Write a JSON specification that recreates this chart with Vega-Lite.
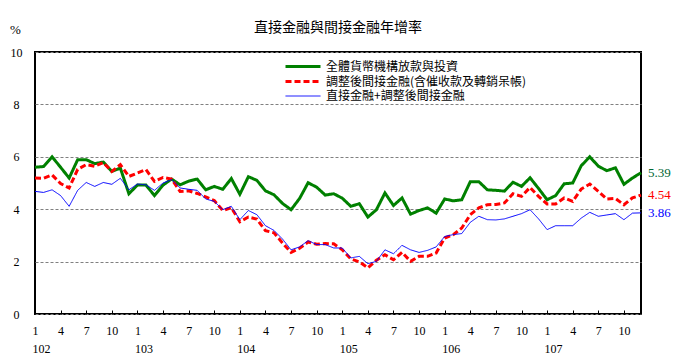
{
  "$schema": "https://vega.github.io/schema/vega-lite/v6.json",
  "width": 606,
  "height": 262,
  "autosize": "none",
  "padding": {"left": 35, "top": 52, "right": 39, "bottom": 49},
  "background": "white",
  "title": {"text": "直接金融與間接金融年增率", "font": "Noto Sans CJK TC", "fontSize": 14, "fontWeight": "normal", "frame": "group", "anchor": "middle", "offset": -12, "color": "black"},
  "config": {"view": {"stroke": "black", "strokeWidth": 2}},
  "data": {"values": [
    {"t":0,"g":5.60,"r":5.19,"b":4.68},{"t":1,"g":5.63,"r":5.18,"b":4.64},{"t":2,"g":6.00,"r":5.31,"b":4.74},{"t":3,"g":5.60,"r":4.98,"b":4.52},{"t":4,"g":5.19,"r":4.81,"b":4.11},{"t":5,"g":5.89,"r":5.52,"b":4.72},{"t":6,"g":5.89,"r":5.70,"b":5.02},{"t":7,"g":5.74,"r":5.64,"b":4.87},{"t":8,"g":5.80,"r":5.78,"b":5.02},{"t":9,"g":5.44,"r":5.44,"b":4.95},{"t":10,"g":5.57,"r":5.70,"b":5.18},{"t":11,"g":4.59,"r":5.25,"b":4.74},
    {"t":12,"g":4.92,"r":5.38,"b":4.96},{"t":13,"g":4.92,"r":5.51,"b":4.93},{"t":14,"g":4.52,"r":5.06,"b":4.72},{"t":15,"g":4.92,"r":5.21,"b":5.00},{"t":16,"g":5.15,"r":5.15,"b":5.13},{"t":17,"g":4.93,"r":4.68,"b":4.81},{"t":18,"g":5.07,"r":4.70,"b":4.76},{"t":19,"g":5.15,"r":4.60,"b":4.72},{"t":20,"g":4.74,"r":4.47,"b":4.39},{"t":21,"g":4.87,"r":4.33,"b":4.30},{"t":22,"g":4.76,"r":3.95,"b":3.98},{"t":23,"g":5.17,"r":4.06,"b":4.11},
    {"t":24,"g":4.57,"r":3.52,"b":3.60},{"t":25,"g":5.24,"r":3.70,"b":3.95},{"t":26,"g":5.10,"r":3.62,"b":3.79},{"t":27,"g":4.70,"r":3.18,"b":3.37},{"t":28,"g":4.55,"r":3.10,"b":3.19},{"t":29,"g":4.22,"r":2.71,"b":2.86},{"t":30,"g":3.98,"r":2.35,"b":2.45},{"t":31,"g":4.41,"r":2.51,"b":2.56},{"t":32,"g":5.01,"r":2.75,"b":2.80},{"t":33,"g":4.84,"r":2.66,"b":2.65},{"t":34,"g":4.54,"r":2.69,"b":2.65},{"t":35,"g":4.59,"r":2.68,"b":2.52},
    {"t":36,"g":4.42,"r":2.45,"b":2.52},{"t":37,"g":4.11,"r":2.10,"b":2.14},{"t":38,"g":4.21,"r":1.99,"b":2.20},{"t":39,"g":3.70,"r":1.76,"b":1.92},{"t":40,"g":3.98,"r":2.05,"b":2.01},{"t":41,"g":4.62,"r":2.26,"b":2.45},{"t":42,"g":4.14,"r":2.07,"b":2.30},{"t":43,"g":4.43,"r":2.35,"b":2.62},{"t":44,"g":3.81,"r":2.01,"b":2.45},{"t":45,"g":3.95,"r":2.20,"b":2.35},{"t":46,"g":4.05,"r":2.20,"b":2.43},{"t":47,"g":3.85,"r":2.33,"b":2.56},
    {"t":48,"g":4.39,"r":2.90,"b":2.96},{"t":49,"g":4.32,"r":3.03,"b":3.03},{"t":50,"g":4.36,"r":3.28,"b":3.07},{"t":51,"g":5.05,"r":3.79,"b":3.50},{"t":52,"g":5.05,"r":4.05,"b":3.73},{"t":53,"g":4.74,"r":4.17,"b":3.60},{"t":54,"g":4.72,"r":4.18,"b":3.59},{"t":55,"g":4.69,"r":4.24,"b":3.63},{"t":56,"g":5.03,"r":4.59,"b":3.73},{"t":57,"g":4.87,"r":4.49,"b":3.83},{"t":58,"g":5.20,"r":4.83,"b":3.98},{"t":59,"g":4.79,"r":4.49,"b":3.63},
    {"t":60,"g":4.36,"r":4.20,"b":3.22},{"t":61,"g":4.52,"r":4.20,"b":3.37},{"t":62,"g":4.97,"r":4.43,"b":3.37},{"t":63,"g":5.00,"r":4.30,"b":3.37},{"t":64,"g":5.66,"r":4.77,"b":3.66},{"t":65,"g":6.00,"r":4.96,"b":3.88},{"t":66,"g":5.64,"r":4.68,"b":3.73},{"t":67,"g":5.47,"r":4.39,"b":3.78},{"t":68,"g":5.58,"r":4.41,"b":3.83},{"t":69,"g":4.95,"r":4.17,"b":3.60},{"t":70,"g":5.19,"r":4.43,"b":3.85},{"t":71,"g":5.39,"r":4.54,"b":3.86}
  ]},
  "transform": [{"fold": ["g", "r", "b"], "as": ["key", "v"]}],
  "resolve": {"axis": {"x": "independent"}},
  "layer": [
    {
      "mark": {"type": "line", "strokeJoin": "miter"},
      "encoding": {
        "x": {"field": "t", "type": "quantitative", "scale": {"domain": [0, 71], "nice": false, "zero": false},
              "axis": {"values": [0,3,6,9,12,15,18,21,24,27,30,33,36,39,42,45,48,51,54,57,60,63,66,69],
                       "labelExpr": "'' + (datum.value % 12 + 1)", "title": null, "grid": false, "domain": false,
                       "tickSize": -4, "tickWidth": 1, "tickColor": "black", "labelPadding": 15, "labelFont": "Liberation Serif", "labelFontSize": 12, "labelColor": "black", "labelFlush": false, "labelOverlap": false}},
        "y": {"field": "v", "type": "quantitative", "scale": {"domain": [0, 10], "nice": false},
              "axis": {"values": [0,2,4,6,8,10], "title": "%", "titleAngle": 0, "titleX": -20, "titleY": -23, "titleAlign": "center", "titleBaseline": "middle", "titleFont": "Liberation Serif", "titleFontSize": 13, "titleFontWeight": "normal", "titleColor": "black",
                       "grid": true, "gridColor": "#808080", "gridDash": [3, 2], "gridWidth": 1, "ticks": false, "tickSize": 0, "domain": false,
                       "labelAlign": "center", "labelPadding": 19, "labelFont": "Liberation Serif", "labelFontSize": 12, "labelColor": "black"}},
        "color": {"field": "key", "type": "nominal", "scale": {"domain": ["g", "r", "b"], "range": ["#008000", "#ff0000", "#0000ff"]},
                  "legend": {"orient": "none", "legendX": 249, "legendY": 8, "title": null, "symbolType": "M-1,0H6", "symbolSize": 100,
                             "labelExpr": "datum.value == 'g' ? '全體貨幣機構放款與投資' : datum.value == 'r' ? '調整後間接金融(含催收款及轉銷呆帳)' : '直接金融+調整後間接金融'",
                             "labelFont": "Noto Sans CJK TC", "labelFontSize": 12, "labelLimit": 400, "labelColor": "black", "labelOffset": 29, "rowPadding": 2}},
        "strokeDash": {"field": "key", "type": "nominal", "scale": {"domain": ["g", "r", "b"], "range": [[1, 0], [6, 3], [1, 0]]}},
        "strokeWidth": {"field": "key", "type": "nominal", "scale": {"type": "ordinal", "domain": ["g", "r", "b"], "range": [3, 3, 1]}}
      }
    },
    {
      "transform": [{"filter": "datum.t == 71"}],
      "mark": {"type": "text", "align": "left", "dx": 7, "font": "Liberation Serif", "fontSize": 13, "baseline": "middle"},
      "encoding": {
        "x": {"field": "t", "type": "quantitative",
              "axis": {"orient": "bottom", "values": [0.7, 12.7, 24.7, 36.7, 48.7, 60.7], "labelExpr": "'' + (102 + floor(datum.value / 12))",
                       "title": null, "grid": false, "domain": false, "ticks": false, "labelPadding": 29, "labelFont": "Liberation Serif", "labelFontSize": 12, "labelColor": "black", "labelFlush": false}},
        "y": {"field": "v", "type": "quantitative"},
        "text": {"field": "v", "type": "quantitative", "format": ".2f"},
        "fill": {"field": "key", "type": "nominal", "scale": {"domain": ["g", "r", "b"], "range": ["#006633", "#ff0000", "#0000ff"]}, "legend": null}
      }
    }
  ]
}
